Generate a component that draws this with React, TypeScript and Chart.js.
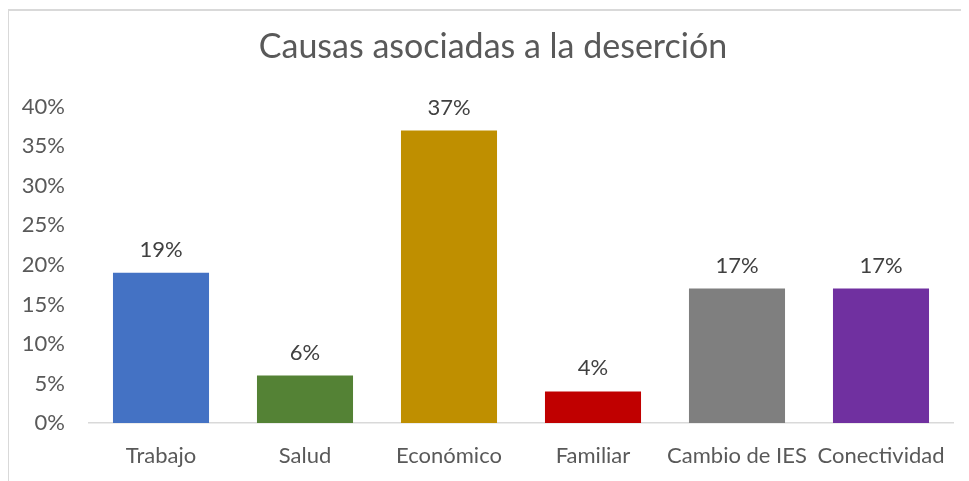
import React, { useEffect, useRef } from "react";
import { Chart, registerables } from "chart.js";

Chart.register(...registerables);

const categories = ["Trabajo", "Salud", "Económico", "Familiar", "Cambio de IES", "Conectividad"];
const values = [19, 6, 37, 4, 17, 17];
const barColors = ["#4472C4", "#548235", "#BF8F00", "#C00000", "#7F7F7F", "#7030A0"];
const chartTitle = "Causas asociadas a la deserción";
const yMax = 40;
const yStep = 5;

const FONT = "Lato, 'Open Sans', sans-serif";
const TITLE_SIZE = 34;
const TITLE_PAD_TOP = 19;

const dataLabels = {
  id: "dataLabels",
  afterDatasetsDraw(chart: any) {
    const ctx = chart.ctx;
    const meta = chart.getDatasetMeta(0);
    ctx.save();
    ctx.font = `22px ${FONT}`;
    ctx.fillStyle = "#404040";
    ctx.textAlign = "center";
    ctx.textBaseline = "alphabetic";
    meta.data.forEach((bar: any, i: number) => {
      ctx.fillText(`${values[i]}%`, bar.x, bar.y - 16);
    });
    ctx.restore();
  },
};

const shiftedTitle = {
  id: "shiftedTitle",
  afterDraw(chart: any) {
    const ctx = chart.ctx;
    const tb = chart.titleBlock;
    if (!tb) return;
    ctx.save();
    ctx.font = `${TITLE_SIZE}px ${FONT}`;
    ctx.fillStyle = "#595959";
    ctx.textAlign = "center";
    ctx.textBaseline = "middle";
    ctx.fillText(chartTitle, 485, tb.top + TITLE_PAD_TOP + (TITLE_SIZE * 1.2) / 2);
    ctx.restore();
  },
};

export default function App() {
  const ref = useRef<HTMLCanvasElement>(null);
  useEffect(() => {
    if (!ref.current) return;
    const chart = new Chart(ref.current, {
      type: "bar",
      data: {
        labels: categories,
        datasets: [
          {
            data: values,
            backgroundColor: barColors,
            borderWidth: 0,
            categoryPercentage: 0.667,
            barPercentage: 1,
          },
        ],
      },
      options: {
        animation: false,
        responsive: true,
        maintainAspectRatio: false,
        layout: { padding: { left: 0, right: 16, top: 0, bottom: 0 } },
        plugins: {
          legend: { display: false },
          tooltip: { enabled: false },
          title: {
            display: true,
            text: chartTitle,
            color: "rgba(0,0,0,0)",
            font: { family: FONT, size: TITLE_SIZE, weight: "normal" },
            padding: { top: TITLE_PAD_TOP, bottom: 39 },
          },
        },
        scales: {
          x: {
            grid: { display: false, drawTicks: false },
            border: { display: true, color: "#D9D9D9", width: 1.5 },
            ticks: {
              color: "#595959",
              font: { family: FONT, size: 22 },
              padding: 20,
              maxRotation: 0,
              autoSkip: false,
            },
            afterFit: (s: any) => {
              s.height = 58;
            },
          },
          y: {
            min: 0,
            max: yMax,
            grid: { display: false, drawTicks: false },
            border: { display: false },
            ticks: {
              stepSize: yStep,
              color: "#595959",
              font: { family: FONT, size: 22 },
              padding: 24,
              callback: (v: any) => `${v}%`,
            },
            afterFit: (s: any) => {
              s.width = 81;
            },
          },
        },
      },
      plugins: [dataLabels, shiftedTitle],
    });
    return () => chart.destroy();
  }, []);

  return (
    <div
      style={{
        position: "relative",
        width: 961,
        height: 473,
        boxSizing: "border-box",
      }}
    >
      <div
        style={{
          position: "absolute",
          left: -1,
          top: 1,
          right: 0,
          bottom: 0,
          borderTop: "2px solid #D9D9D9",
          borderLeft: "2px solid #D9D9D9",
          pointerEvents: "none",
        }}
      />
      <canvas ref={ref} />
    </div>
  );
}
